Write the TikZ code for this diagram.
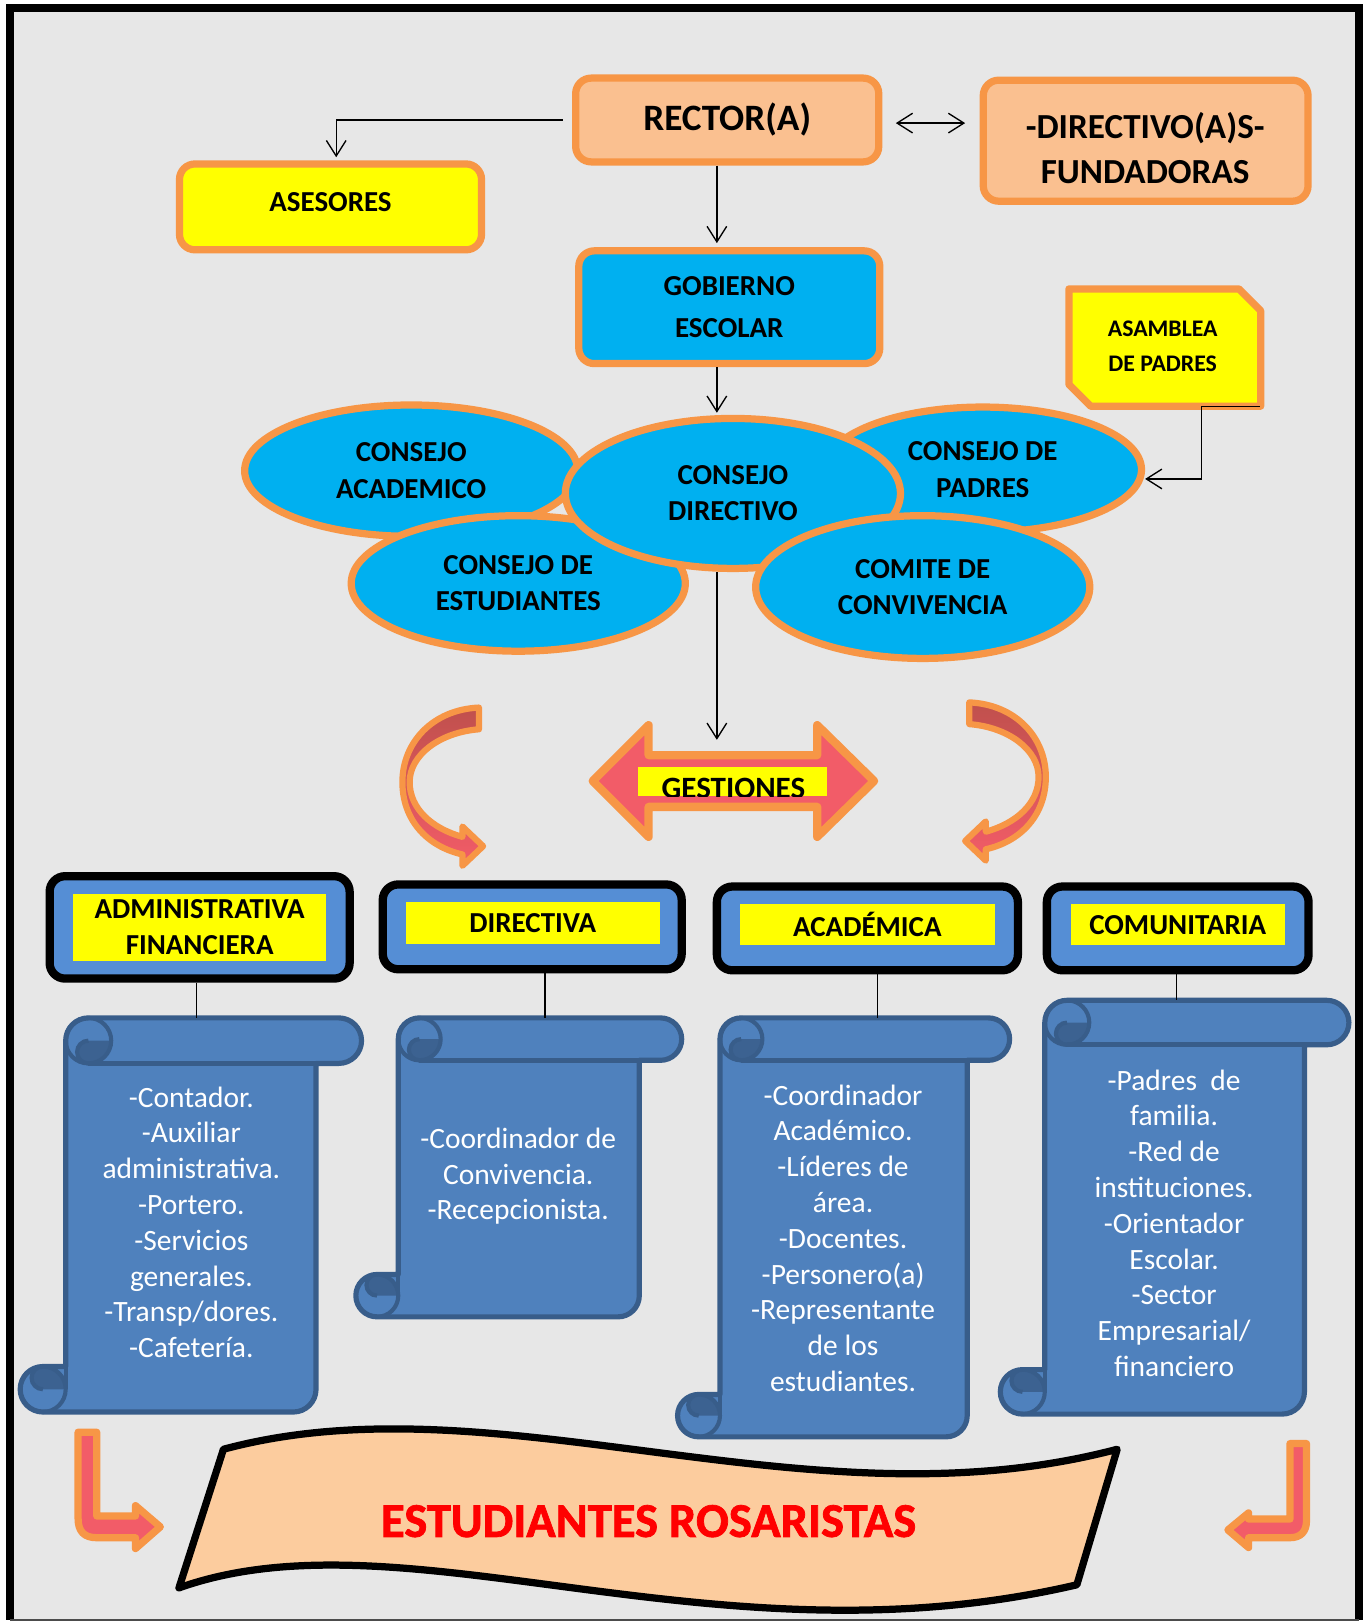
\documentclass[tikz,border=0pt]{standalone}
\usepackage{fontspec}
\setmainfont{Carlito}
\usetikzlibrary{arrows.meta,shapes.geometric}
\definecolor{orng}{RGB}{247,150,70}
\definecolor{peach}{RGB}{250,192,144}
\definecolor{cyanb}{RGB}{0,176,240}
\definecolor{yel}{RGB}{255,255,0}
\definecolor{hblue}{RGB}{85,142,213}
\definecolor{sfill}{RGB}{79,129,189}
\definecolor{sline}{RGB}{56,93,138}
\definecolor{sdark}{RGB}{60,98,145}
\definecolor{bg}{RGB}{231,231,231}
\definecolor{pinkred}{RGB}{242,92,104}
\definecolor{darkred}{RGB}{192,80,77}
\definecolor{bannerc}{RGB}{252,204,158}
\newcommand{\myfs}[2]{\fontsize{#1}{#2}\selectfont}
\newcommand{\myscroll}[6]{%
\path[scr] ({#2+#6},{#5-#6}) -- ({#2+#6},{#3+#6/2})
  arc[start angle=180,end angle=270,radius={#6/2}]
  -- ({#4-#6/2},{#3})
  arc[start angle=270,end angle=450,radius={#6/2}]
  -- ({#4-#6},{#3+#6}) -- ({#4-#6},{#5-#6/2})
  arc[start angle=0,end angle=90,radius={#6/2}]
  -- ({#2+#6/2},{#5})
  arc[start angle=90,end angle=270,radius={#6/2}]
  -- cycle;
\fill[sdark] ({#2+2*#6},{#3+#6/2}) arc[start angle=0,end angle=90,radius={#6/2}] arc[start angle=90,end angle=270,radius={#6/4}] -- cycle;
\draw[sline,line width=4pt] ({#2+1.5*#6},{#3+#6/2}) circle[radius={#6/2}];
\draw[sline,line width=4pt] ({#2+1.5*#6},{#3+#6}) arc[start angle=90,end angle=270,radius={#6/4}];
\draw[sline,line width=5pt] ({#2+1.5*#6},{#3+#6}) -- ({#4-#6/2},{#3+#6});
\fill[sdark] ({#2+#6/2},{#5-#6}) arc[start angle=270,end angle=360,radius={#6/2}] -- ({#2+#6/2},{#5-#6/2}) arc[start angle=90,end angle=270,radius={#6/4}] -- cycle;
\draw[sline,line width=4pt] ({#2+#6/2},{#5-#6}) arc[start angle=270,end angle=450,radius={#6/2}];
\draw[sline,line width=4pt] ({#2+#6/2},{#5-#6/2}) arc[start angle=90,end angle=270,radius={#6/4}];
\draw[sline,line width=4pt] ({#2+#6},{#5-#6}) -- ({#2+#6},{#5-#6/2});
\node[inner sep=0pt, minimum width={#4-#2}, minimum height={#5-#3}] (#1) at ({(#2+#4)/2},{(#3+#5)/2}) {};
}
\newcommand{\drawcurv}{%
\path[draw=orng, line width=6pt, line join=round, top color=darkred, bottom color=pinkred]
 (463,684) -- (463,705) .. controls (425,708) and (396,730) .. (396,756)
 .. controls (396,782) and (418,801) .. (447,809) -- (447,799) -- (467,818) -- (447,837) -- (447,826)
 .. controls (412,818) and (389,792) .. (389,756) .. controls (389,718) and (418,686) .. (463,684) -- cycle;
}
\begin{document}
\begin{tikzpicture}[x=1pt,y=-1pt,
  >={Straight Barb[length=15pt,width=19pt]},
  obox/.style={draw=orng, line width=7pt, rounded corners=15pt, inner sep=0pt, align=center},
  oell/.style={ellipse, draw=orng, fill=cyanb, line width=7pt, inner sep=0pt, align=center, font=\bfseries\myfs{28}{35}},
  hbox/.style={draw=black, fill=hblue, line width=8pt, rounded corners=15pt, inner sep=0pt},
  ylab/.style={fill=yel, inner sep=0pt, align=center, font=\bfseries\myfs{28}{35}},
  stext/.style={text=white, align=center, inner sep=0pt, font=\myfs{28.5}{34.6}},
  conn/.style={draw=black, line width=1.3pt},
  arr/.style={conn, ->},
  darr/.style={conn, <->},
  scr/.style={fill=sfill, draw=sline, line width=5pt, line join=round},
  bent/.style={draw=orng, fill=pinkred, line width=7pt, line join=round},
]
\useasboundingbox (0,0) rectangle (1322,1568);
\fill[white] (0,0) rectangle (1322,1568);
\fill[bg] (10,8) rectangle (1314,1566);
\draw[line width=8pt] (10,1566) -- (10,8) -- (1314,8) -- (1314,1566);
\draw[line width=1.5pt, black!70] (10,1566) -- (1314,1566);

\coordinate (cx) at (693,0);

% top boxes
\node[obox, fill=peach, minimum width=293pt, minimum height=81pt, font=\bfseries\myfs{36}{40}] (rector) at (703,116) {RECTOR(A)};
\node[obox, fill=peach, minimum width=314pt, minimum height=117pt] (fund) at (1107.5,136) {};
\node[font=\bfseries\myfs{34}{44}, align=center, inner sep=0pt] (fundT) at (1107,143) {-DIRECTIVO(A)S-\\FUNDADORAS};
\node[obox, fill=yel, minimum width=292pt, minimum height=83pt, font=\bfseries\myfs{28}{34}, text height=18pt, text depth=9pt] (ases) at (319.5,200) {ASESORES};
\node[obox, fill=cyanb, minimum width=291pt, minimum height=109pt, font=\bfseries\myfs{28}{40}] (gob) at (705,297) {GOBIERNO\\ESCOLAR};

% asamblea
\node[inner sep=0pt, minimum width=185pt, minimum height=113pt] (asam) at (1126,336) {};
\path[draw=orng, fill=yel, line width=7pt, line join=round] (asam.north west) -- ([xshift=-21pt]asam.north east) -- ([yshift=-21pt]asam.north east) -- (asam.south east) -- ([xshift=21pt]asam.south west) -- ([yshift=21pt]asam.south west) -- cycle;
\node[font=\bfseries\myfs{23}{33.5}, align=center, inner sep=0pt] (asamT) at (1124,335) {ASAMBLEA\\DE PADRES};

% ellipses
\node[oell, minimum width=322pt, minimum height=127pt] (cacad) at (397.5,455) {CONSEJO\\ACADEMICO};
\node[oell, minimum width=307pt, minimum height=121pt] (cpad) at (950,454) {CONSEJO DE\\PADRES};
\node[oell, minimum width=323pt, minimum height=131pt] (cest) at (501,564) {CONSEJO DE\\ESTUDIANTES};
\node[oell, minimum width=324pt, minimum height=145pt] (cdir) at (708.5,477) {CONSEJO\\DIRECTIVO};
\node[oell, minimum width=323pt, minimum height=138pt] (ccom) at (892,567.5) {COMITE DE\\CONVIVENCIA};

% connectors top
\draw[arr] ([xshift=-9pt]rector.west) -| ([xshift=5.5pt,yshift=3pt]ases.north);
\draw[darr] ([xshift=13pt,yshift=-3pt]rector.east) -- ([xshift=-14pt,yshift=-3pt]rector.east -| fund.west);
\draw[arr] (rector.south -| cx) -- ([yshift=4pt]gob.north -| cx);
\draw[arr] (gob.south -| cx) -- ([yshift=2pt]cdir.north -| cx);
\draw[arr] ([xshift=-1pt]asam.south east) -- ++(-56,0) |- ([yshift=-9pt]cpad.east);

% gestiones double arrow
\path[draw=orng, fill=pinkred, line width=8pt, line join=round] (573,755) -- (627,701) -- (627,730) -- (790,730) -- (790,701) -- (845,755) -- (790,809) -- (790,780) -- (627,780) -- (627,809) -- cycle;
\node[fill=yel, minimum width=183pt, minimum height=28pt, inner sep=0pt] (gest) at (708,755.4) {};
\begin{scope}
\clip (gest.south west) rectangle (gest.north east);
\node[font=\bfseries\myfs{30}{30}, anchor=base, inner sep=0pt] (gestT) at (709,772) {GESTIONES};
\end{scope}
\draw[arr] (cdir.south -| cx) -- ([yshift=26pt]gest.north -| cx);

% curved arrows
\drawcurv
\begin{scope}[shift={(1400,-5)}, xscale=-1]
\drawcurv
\end{scope}

% header boxes
\node[hbox, minimum width=290pt, minimum height=99pt] (h1) at (193,896.5) {};
\node[ylab, minimum width=244pt, minimum height=65pt] (y1) at (193,896.5) {ADMINISTRATIVA\\FINANCIERA};
\node[hbox, minimum width=289pt, minimum height=82pt] (h2) at (514.5,896) {};
\node[ylab, minimum width=246pt, minimum height=41pt] (y2) at (515,892.5) {DIRECTIVA};
\node[hbox, minimum width=291pt, minimum height=81pt] (h3) at (838.5,897.5) {};
\node[ylab, minimum width=247pt, minimum height=40pt] (y3) at (838.5,894) {ACADÉMICA};
\node[hbox, minimum width=253pt, minimum height=81pt] (h4) at (1138.5,897.5) {};
\node[ylab, minimum width=207pt, minimum height=40pt] (y4) at (1138.5,894) {COMUNITARIA};

% scrolls
\myscroll{s1}{19.5}{984}{349.5}{1365}{44}
\myscroll{s2}{344}{984}{659}{1273}{41}
\myscroll{s3}{655}{984}{976}{1389}{41}
\myscroll{s4}{967}{967}{1304}{1367}{43}

\node[stext] (t1) at (185,1181.5) {-Contador.\\-Auxiliar\\administrativa.\\-Portero.\\-Servicios\\generales.\\-Transp/dores.\\-Cafetería.};
\node[stext] (t2) at (501,1137) {-Coordinador de\\Convivencia.\\-Recepcionista.};
\node[stext] (t3) at (815,1197) {-Coordinador\\Académico.\\-Líderes de\\área.\\-Docentes.\\-Personero(a)\\-Representante\\de los\\estudiantes.};
\node[stext] (t4) at (1135,1182.4) {-Padres\ \ de\\familia.\\-Red de\\instituciones.\\-Orientador\\Escolar.\\-Sector\\Empresarial/\\financiero};

\coordinate (x1) at (190,0);
\coordinate (x2) at (527,0);
\coordinate (x3) at (848.5,0);
\coordinate (x4) at (1137,0);
\draw[conn] (h1.south -| x1) -- (s1.north -| x1);
\draw[conn] (h2.south -| x2) -- (s2.north -| x2);
\draw[conn] (h3.south -| x3) -- (s3.north -| x3);
\draw[conn] (h4.south -| x4) -- (s4.north -| x4);

% banner
\path[draw=black, line width=7pt, fill=bannerc, line join=round] (216,1401) .. controls (480,1330) and (780,1480) .. (1080,1401) -- (1041,1532) .. controls (690,1614) and (390,1458) .. (173,1535) -- cycle;
\node[font=\bfseries\myfs{47}{47}\addfontfeature{FakeBold=1.5}, text=red, inner sep=0pt] (est) at (627,1470.5) {ESTUDIANTES ROSARISTAS};

% bent arrows
\path[bent] (75.5,1384.5) -- (75.5,1468) .. controls (75.5,1480) and (81,1486.5) .. (93.5,1486.5) -- (131,1486.5) -- (131,1497) -- (155,1476) -- (131,1455.5) -- (131,1465.5) -- (93.5,1465.5) -- (93.5,1384.5) -- cycle;
\path[bent] (1263,1395.5) -- (1263,1470) .. controls (1263,1481) and (1257,1486.5) .. (1247,1486.5) -- (1207,1486.5) -- (1207,1496) -- (1187,1479) -- (1207,1462.5) -- (1207,1468.5) -- (1247,1468.5) -- (1247,1395.5) -- cycle;
\end{tikzpicture}
\end{document}
